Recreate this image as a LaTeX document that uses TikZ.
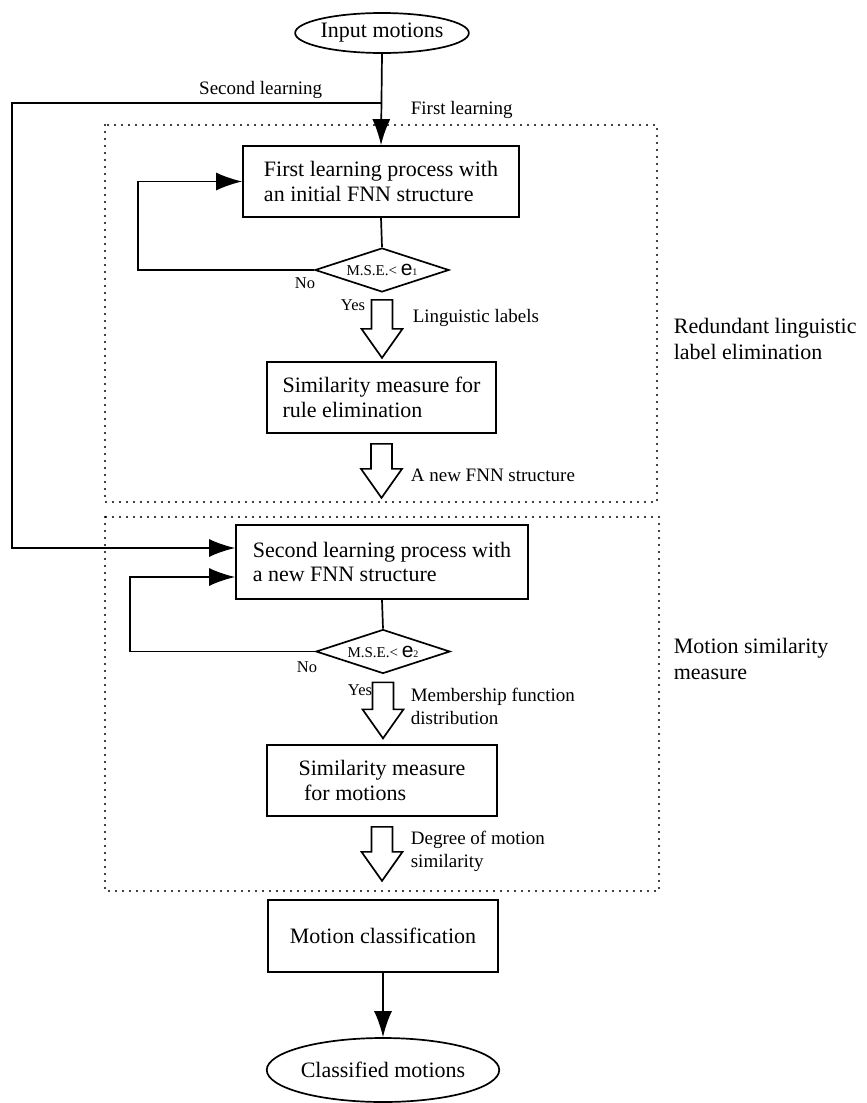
\documentclass[tikz,border=0pt]{standalone}
\usepackage{fontspec}
\setmainfont{Liberation Serif}
\setsansfont{Liberation Sans}
\usetikzlibrary{shapes.geometric,arrows.meta,calc}

\begin{document}
\begin{tikzpicture}[x=1pt,y=-1pt,line width=1.7pt,
  every node/.style={font=\fontsize{22}{24.5}\selectfont},
  proc/.style={draw,rectangle,minimum height=71pt,align=left,inner sep=0pt},
  term/.style={draw,ellipse,inner sep=0pt},
  test/.style={draw,diamond,shape aspect=3,minimum width=134pt,minimum height=44pt,inner sep=0pt,font=\fontsize{15}{17}\selectfont},
  lbl/.style={font=\fontsize{19}{23}\selectfont,align=left,anchor=west,inner sep=0pt},
  side/.style={font=\fontsize{22}{26}\selectfont,align=left,anchor=west,inner sep=0pt},
  yn/.style={font=\fontsize{16.5}{18}\selectfont,inner sep=0pt},
  area/.style={line width=2.2pt,dash pattern=on 0pt off 7pt,line cap=round},
  flow/.style={-{Latex[length=26pt,width=18pt]}}]
\tikzset{pics/fat/.style={code={\draw[fill=white,line join=miter] (-10.5,0) -- (10.5,0) -- (10.5,#1-29) -- (20.5,#1-29) -- (0,#1) -- (-20.5,#1-29) -- (-10.5,#1-29) -- cycle;}}}
\useasboundingbox (0,0) rectangle (867,1103);
% stages
\node[term,minimum width=156pt,minimum height=40pt] (in) at (382,33) {Input motions};
\node[proc,minimum width=276pt] (b1) at (381,181.5) {First learning process with\\an initial FNN structure};
\node[test] (d1) at (382,270) {M.S.E.< {\sffamily\fontsize{21}{21}\selectfont e}{\fontsize{10}{10}\selectfont 1}};
\node[proc,minimum width=229pt] (b2) at (381.5,397.5) {Similarity measure for\\rule elimination};
\node[proc,minimum width=292pt,minimum height=74pt] (b3) at (382,562) {Second learning process with\\a new FNN structure};
\node[test] (d2) at (383,651.5) {M.S.E.< {\sffamily\fontsize{21}{21}\selectfont e}{\fontsize{10}{10}\selectfont 2}};
\node[proc,minimum width=230pt] (b4) at (382,780.5) {Similarity measure\\\ for motions};
\node[proc,minimum width=230pt,minimum height=72pt] (b5) at (383,936) {Motion classification};
\node[term,minimum width=210pt,minimum height=64pt] (out) at (383,1070) {Classified motions};
% regions
\draw[area] (105,125) rectangle (657,502);
\draw[area] (105,517) rectangle (659,891);
\node[side] (r1) at (673,339) {Redundant linguistic\\label elimination};
\node[side] (r2) at (673,658.5) {Motion similarity\\measure};
% connectors
\coordinate (split) at (382,103);
\coordinate (far) at (12,103);
\coordinate (l1) at (138,270);
\coordinate (l2) at (130,651.5);
\draw[flow] (in.south) -- (b1.north);
\draw[flow] (split) -- (far) |- ($(b3.west)+(0,-14)$);
\draw (b1.south) -- (d1.north);
\draw[flow] (d1.west) -- (l1) |- (b1.west);
\draw (b3.south) -- (d2.north);
\draw[flow] (d2.west) -- (l2) |- ($(b3.west)+(0,15)$);
\draw[flow] (b5.south) -- (out.north);
\pic at ($(d1.south)+(0,7)$) {fat=58};
\pic at ($(b2.south)+(0,10)$) {fat=54};
\pic at ($(d2.south)+(0,8)$) {fat=56};
\pic at ($(b4.south)+(0,10)$) {fat=54};
% labels
\node[lbl,anchor=east] (sl) at (323,90) {Second learning};
\node[lbl] (fl) at (410,110) {First learning};
\node[yn] (no1) at (305,283) {No};
\node[yn] (yes1) at (353,305) {Yes};
\node[yn] (no2) at (307,667) {No};
\node[yn] (yes2) at (360,690) {Yes};
\node[lbl] (t1) at (412,318) {Linguistic labels};
\node[lbl] (t2) at (410,475) {A new FNN structure};
\node[lbl] (t3) at (410,706) {Membership function\\distribution};
\node[lbl] (t4) at (410,851.5) {Degree of motion\\similarity};
\end{tikzpicture}
\end{document}
